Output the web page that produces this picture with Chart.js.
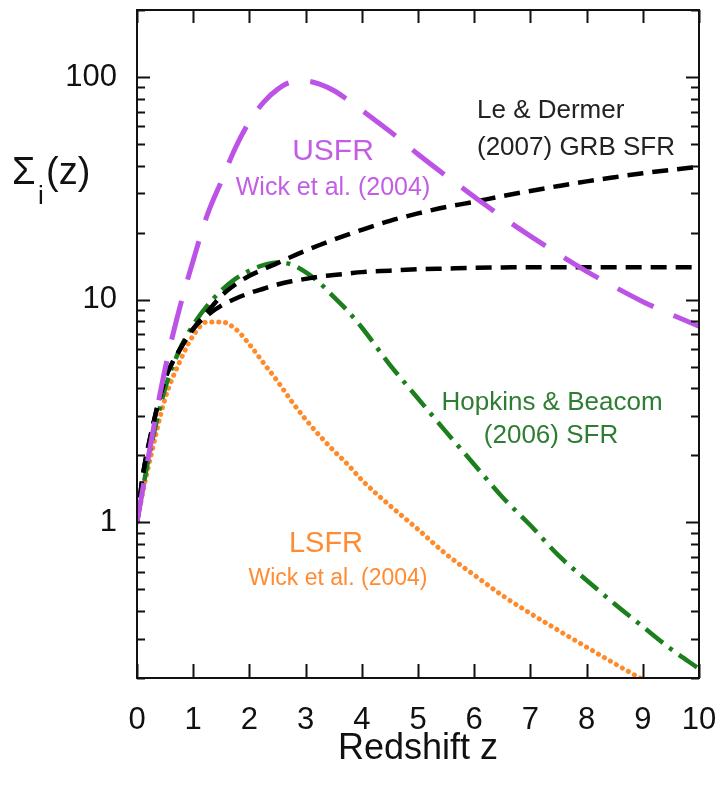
<!DOCTYPE html>
<html>
<head>
<meta charset="utf-8">
<script src="https://cdn.jsdelivr.net/npm/chart.js@4.4.1/dist/chart.umd.min.js"></script>
<style>
  html, body { margin: 0; padding: 0; background: #fff; }
  #wrap { width: 721px; height: 793px; }
</style>
</head>
<body>
<div id="wrap"><canvas id="sfrChart" width="721" height="793"></canvas></div>
<script>
// redshift grid the curves were read on
const zValues = [0, 0.1, 0.25, 0.5, 0.75, 1, 1.25, 1.5, 1.75, 2, 2.25, 2.5, 2.75, 3, 3.25, 3.5, 3.75, 4, 4.5, 5, 5.5, 6, 6.5, 7, 7.5, 8, 8.5, 9, 9.5, 10];

const usfrWick = [1, 1.4, 2.3, 4.9, 9.0, 15, 24, 34, 48, 63, 77, 88, 95, 96, 93, 87, 79, 71, 57, 45, 36, 29, 23.5, 19.3, 16, 13.4, 11.4, 9.8, 8.6, 7.6];
const grbLeDermerHigh = [1, 1.6, 2.5, 4.4, 5.9, 7.4, 8.8, 10.4, 11.7, 12.8, 13.7, 14.6, 15.6, 16.6, 17.6, 18.6, 19.6, 20.6, 22.6, 24.4, 26.1, 27.5, 29.2, 30.8, 32.4, 34, 35.5, 37, 38.3, 39.5];
const grbLeDermerLow = [1, 1.6, 2.5, 4.4, 5.9, 7.4, 8.5, 9.4, 10.1, 10.7, 11.2, 11.7, 12.1, 12.4, 12.7, 12.9, 13.1, 13.3, 13.5, 13.7, 13.8, 13.9, 13.95, 14, 14, 14, 14, 14, 14, 14];
const hopkinsBeacom = [1, 1.4, 2.2, 4.0, 5.9, 7.7, 9.4, 11.0, 12.4, 13.5, 14.3, 14.7, 14.4, 13.3, 11.9, 10.3, 8.9, 7.5, 5.1, 3.6, 2.55, 1.82, 1.3, 0.97, 0.71, 0.55, 0.43, 0.34, 0.27, 0.22];
const lsfrWick = [1, 1.35, 2.0, 3.6, 5.2, 6.9, 7.95, 7.95, 7.4, 6.3, 5.2, 4.3, 3.5, 2.9, 2.45, 2.1, 1.82, 1.55, 1.19, 0.93, 0.72, 0.58, 0.47, 0.39, 0.327, 0.275, 0.232, 0.197, 0.17, 0.147];

const xTickValues = [0, 1, 2, 3, 4, 5, 6, 7, 8, 9, 10];
const yTickLabels = [1, 10, 100];
const yTickValues = [0.2, 0.3, 0.4, 0.5, 0.6, 0.7, 0.8, 0.9, 1, 2, 3, 4, 5, 6, 7, 8, 9, 10, 20, 30, 40, 50, 60, 70, 80, 90, 100, 200];

const FONT = "'Liberation Sans', Arial, Helvetica, sans-serif";

function toPoints(ys) {
    return zValues.map((z, i) => ({ x: z, y: ys[i] }));
}

function noEdgePadding(s) {
    s.paddingTop = 0;
    s.paddingBottom = 0;
    s.paddingLeft = 0;
    s.paddingRight = 0;
}

// box, inward ticks, y title and curve labels
const decorations = {
    id: 'decorations',
    afterDraw(chart) {
        const ctx = chart.ctx;
        const a = chart.chartArea;
        const x = chart.scales.x;
        const y = chart.scales.y;
        ctx.save();
        ctx.strokeStyle = '#111';
        ctx.lineWidth = 2;
        ctx.strokeRect(a.left, a.top, a.right - a.left, a.bottom - a.top);

        ctx.beginPath();
        y.ticks.forEach(t => {
            const py = Math.round(y.getPixelForValue(t.value)) + 0.5;
            const len = yTickLabels.includes(t.value) ? 13 : 8;
            ctx.moveTo(a.left, py); ctx.lineTo(a.left + len, py);
            ctx.moveTo(a.right, py); ctx.lineTo(a.right - len, py);
        });
        x.ticks.forEach(t => {
            const px = Math.round(x.getPixelForValue(t.value)) + 0.5;
            ctx.moveTo(px, a.bottom); ctx.lineTo(px, a.bottom - 14);
            ctx.moveTo(px, a.top); ctx.lineTo(px, a.top + 13);
        });
        ctx.stroke();

        // y axis title: Sigma_i(z)
        ctx.fillStyle = '#111';
        ctx.textBaseline = 'alphabetic';
        ctx.textAlign = 'left';
        ctx.font = '38px ' + FONT;
        ctx.fillText('\u03A3', 12, 184);
        ctx.font = '26px ' + FONT;
        ctx.fillText('i', 38, 204);
        ctx.font = '38px ' + FONT;
        ctx.fillText('(z)', 46, 184);

        const label = (text, px, py, size, color, align) => {
            ctx.font = size + 'px ' + FONT;
            ctx.fillStyle = color;
            ctx.textAlign = align;
            ctx.fillText(text, px, py);
        };
        label('USFR', 333, 160, 30, '#C25EE6', 'center');
        label('Wick et al. (2004)', 333, 195, 25, '#C25EE6', 'center');
        label('Le & Dermer', 477, 118, 26, '#222', 'left');
        label('(2007) GRB SFR', 477, 155, 26, '#222', 'left');
        label('Hopkins & Beacom', 552, 410, 26, '#2E7D32', 'center');
        label('(2006) SFR', 551, 443, 26, '#2E7D32', 'center');
        label('LSFR', 326, 552, 29, '#FF8C33', 'center');
        label('Wick et al. (2004)', 338, 585, 23, '#FF8C33', 'center');
        ctx.restore();
    }
};

new Chart(document.getElementById('sfrChart').getContext('2d'), {
    type: 'line',
    data: {
        datasets: [
            {
                label: 'USFR Wick et al. (2004)',
                data: toPoints(usfrWick),
                borderColor: '#BD52E6',
                borderWidth: 5,
                borderDash: [40, 22]
            },
            {
                label: 'Le & Dermer (2007) GRB SFR',
                data: toPoints(grbLeDermerHigh),
                borderColor: '#000',
                borderWidth: 4.5,
                borderDash: [16, 9]
            },
            {
                label: 'Le & Dermer (2007) GRB SFR, low',
                data: toPoints(grbLeDermerLow),
                borderColor: '#000',
                borderWidth: 4.5,
                borderDash: [16, 9]
            },
            {
                label: 'Hopkins & Beacom (2006) SFR',
                data: toPoints(hopkinsBeacom),
                borderColor: '#1B7F1B',
                borderWidth: 4.5,
                borderDash: [22, 8, 4, 8]
            },
            {
                label: 'LSFR Wick et al. (2004)',
                data: toPoints(lsfrWick),
                borderColor: '#FF8A2A',
                borderWidth: 5,
                borderCapStyle: 'round',
                borderDash: [0.1, 6.8]
            }
        ]
    },
    options: {
        responsive: false,
        maintainAspectRatio: false,
        animation: false,
        layout: { autoPadding: false, padding: { left: 0, right: 22, top: 10, bottom: 0 } },
        elements: {
            point: { radius: 0 },
            line: { cubicInterpolationMode: 'monotone', fill: false }
        },
        plugins: {
            legend: { display: false },
            tooltip: { enabled: false }
        },
        scales: {
            x: {
                type: 'linear',
                min: 0,
                max: 10,
                afterBuildTicks: s => { s.ticks = xTickValues.map(v => ({ value: v })); },
                afterFit: s => { s.height = 115; noEdgePadding(s); },
                grid: { display: false, drawTicks: false },
                border: { display: false },
                ticks: {
                    autoSkip: false,
                    maxRotation: 0,
                    padding: 24,
                    color: '#111',
                    font: { family: FONT, size: 31 }
                },
                title: {
                    display: true,
                    text: 'Redshift z',
                    color: '#111',
                    font: { family: FONT, size: 36 },
                    padding: { top: 0, bottom: 22 }
                }
            },
            y: {
                type: 'logarithmic',
                min: 0.2,
                max: 200,
                afterBuildTicks: s => { s.ticks = yTickValues.map(v => ({ value: v })); },
                afterFit: s => { s.width = 137; noEdgePadding(s); },
                grid: { display: false, drawTicks: false },
                border: { display: false },
                ticks: {
                    autoSkip: false,
                    padding: 20,
                    color: '#111',
                    font: { family: FONT, size: 31 },
                    callback: v => yTickLabels.includes(v) ? String(v) : ''
                }
            }
        }
    },
    plugins: [decorations]
});
</script>
</body>
</html>
